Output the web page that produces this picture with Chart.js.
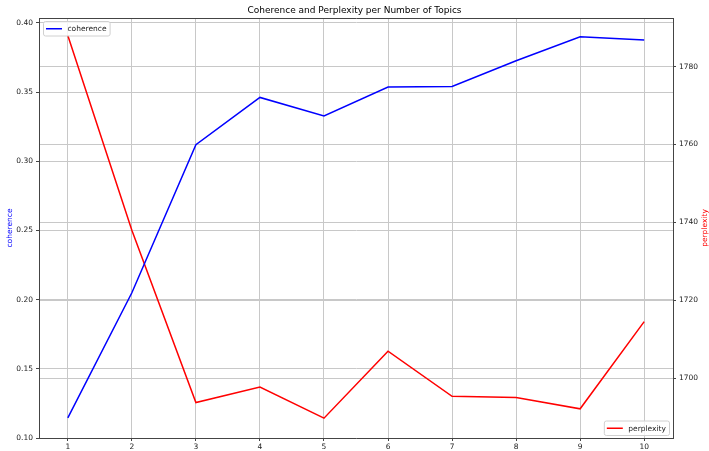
<!DOCTYPE html>
<html>
<head>
<meta charset="utf-8">
<title>Coherence and Perplexity per Number of Topics</title>
<script src="https://cdn.jsdelivr.net/npm/chart.js@4.4.1/dist/chart.umd.min.js"></script>
<style>
  html, body { margin: 0; padding: 0; background: #ffffff; }
  canvas { display: block; }
</style>
</head>
<body>
<canvas id="topicsChart" width="709" height="451"></canvas>
<script>
// number of topics and the two scores measured for each
const topics = [1, 2, 3, 4, 5, 6, 7, 8, 9, 10];
const coherence = [0.1145, 0.205, 0.312, 0.3462, 0.3328, 0.3537, 0.3541, 0.3727, 0.390, 0.3877];
const perplexity = [1788.0, 1738.0, 1693.7, 1697.7, 1689.7, 1706.9, 1695.3, 1695.0, 1692.1, 1714.5];

// tick positions for the two y axes
const coherenceTicks = [0.10, 0.15, 0.20, 0.25, 0.30, 0.35, 0.40];
const perplexityTicks = [1700, 1720, 1740, 1760, 1780];

const FONT = 'DejaVu Sans';
const GRID = '#c8c8c8';
const SPINE = '#444444';

const points = (ys) => topics.map((x, i) => ({ x: x, y: ys[i] }));

// small legend boxes (one per axis) plus the right-hand axis label
const legendsPlugin = {
    id: 'twinLegends',
    afterDraw(chart) {
        const { ctx, chartArea } = chart;
        ctx.save();
        ctx.font = '7.5px "' + FONT + '"';
        ctx.textBaseline = 'middle';

        const box = (x, y, ds) => {
            const w = 24.5 + ctx.measureText(ds.label).width + 3;
            const h = 14.5;
            if (x < 0) x = -x - w;
            if (y < 0) y = -y - h;
            ctx.beginPath();
            ctx.roundRect(x + 0.5, y + 0.5, w, h, 2);
            ctx.fillStyle = 'rgba(255,255,255,0.8)';
            ctx.fill();
            ctx.strokeStyle = '#d0d0d0';
            ctx.lineWidth = 1;
            ctx.stroke();
            ctx.beginPath();
            ctx.moveTo(x + 3, y + h / 2 + 0.5);
            ctx.lineTo(x + 19, y + h / 2 + 0.5);
            ctx.strokeStyle = ds.borderColor;
            ctx.lineWidth = 1.5;
            ctx.stroke();
            ctx.fillStyle = '#222222';
            ctx.fillText(ds.label, x + 24.5, y + h / 2 + 1);
        };

        const [cohDs, perpDs] = chart.data.datasets;
        box(chartArea.left + 4, chartArea.top + 3, cohDs);
        box(-(chartArea.right - 4), -(chartArea.bottom - 3), perpDs);

        // right axis title, reading bottom to top like the left one
        ctx.translate(705, (chartArea.top + chartArea.bottom) / 2);
        ctx.rotate(-Math.PI / 2);
        ctx.textAlign = 'center';
        ctx.fillStyle = '#ff0000';
        ctx.fillText('perplexity', 0, 0);
        ctx.restore();
    }
};

new Chart(document.getElementById('topicsChart'), {
    type: 'line',
    data: {
        datasets: [
            {
                label: 'coherence',
                data: points(coherence),
                borderColor: '#0000ff',
                backgroundColor: '#0000ff',
                borderWidth: 1.5,
                pointRadius: 0,
                fill: false,
                tension: 0,
                yAxisID: 'y'
            },
            {
                label: 'perplexity',
                data: points(perplexity),
                borderColor: '#ff0000',
                backgroundColor: '#ff0000',
                borderWidth: 1.5,
                pointRadius: 0,
                fill: false,
                tension: 0,
                yAxisID: 'y1'
            }
        ]
    },
    options: {
        responsive: false,
        animation: false,
        devicePixelRatio: 1,
        layout: { padding: 0 },
        plugins: {
            legend: { display: false },
            tooltip: { enabled: false },
            title: {
                display: true,
                text: 'Coherence and Perplexity per Number of Topics',
                color: '#000000',
                font: { family: FONT, size: 9, weight: 'normal', lineHeight: 1.2 },
                padding: { top: 5.5, bottom: 1.7 }
            }
        },
        scales: {
            x: {
                type: 'linear',
                position: 'bottom',
                min: 0.55,
                max: 10.45,
                afterBuildTicks: (scale) => { scale.ticks = topics.map(v => ({ value: v })); },
                afterFit: (scale) => { scale.height = 13; },
                ticks: {
                    color: '#222222',
                    font: { family: FONT, size: 7.5 },
                    padding: 2,
                    maxRotation: 0,
                    callback: (v) => String(v)
                },
                grid: { color: GRID, lineWidth: 1, tickLength: 3, tickColor: SPINE },
                border: { color: SPINE, width: 1 }
            },
            xTop: {
                type: 'linear',
                position: 'top',
                min: 0.55,
                max: 10.45,
                afterFit: (scale) => { scale.height = 0; },
                ticks: { display: false },
                grid: { drawOnChartArea: false, drawTicks: false },
                border: { color: SPINE, width: 1 }
            },
            y: {
                type: 'linear',
                position: 'left',
                min: 0.1,
                max: 0.4036,
                afterBuildTicks: (scale) => { scale.ticks = coherenceTicks.map(v => ({ value: v })); },
                afterFit: (scale) => { scale.width = 39; },
                ticks: {
                    color: '#222222',
                    font: { family: FONT, size: 7.5 },
                    padding: 3,
                    callback: (v) => v.toFixed(2)
                },
                grid: { color: GRID, lineWidth: 1, tickLength: 3, tickColor: SPINE },
                border: { color: SPINE, width: 1 },
                title: {
                    display: true,
                    text: 'coherence',
                    color: '#0000ff',
                    font: { family: FONT, size: 7.5, lineHeight: 1.2 },
                    padding: { top: 5.5, bottom: 0 }
                }
            },
            y1: {
                type: 'linear',
                position: 'right',
                min: 1684.6,
                max: 1792.5,
                afterBuildTicks: (scale) => { scale.ticks = perplexityTicks.map(v => ({ value: v })); },
                afterFit: (scale) => { scale.width = 36; },
                ticks: {
                    color: '#222222',
                    font: { family: FONT, size: 7.5 },
                    padding: 3,
                    callback: (v) => String(v)
                },
                grid: { color: GRID, lineWidth: 1, tickLength: 3, tickColor: SPINE },
                border: { color: SPINE, width: 1 }
            }
        }
    },
    plugins: [legendsPlugin]
});
</script>
</body>
</html>
